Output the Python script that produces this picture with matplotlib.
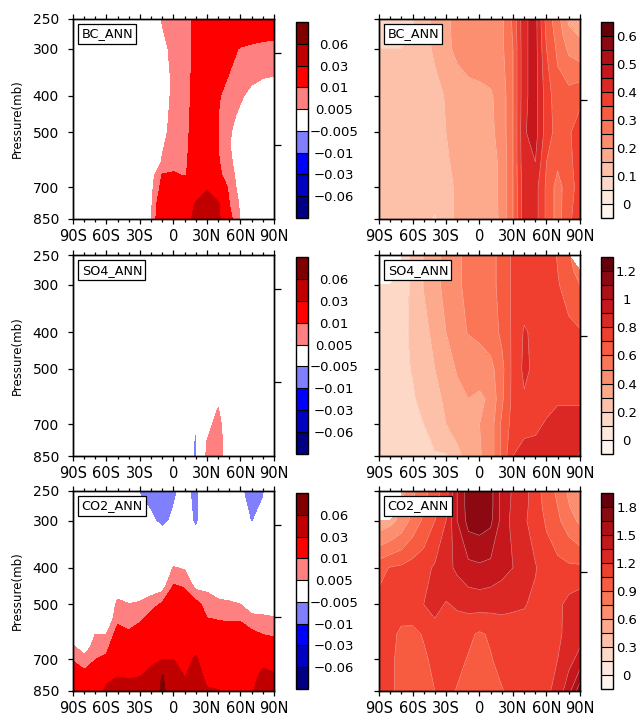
import numpy as np
import matplotlib
matplotlib.use("Agg")
import matplotlib.pyplot as plt
from matplotlib.colors import ListedColormap, BoundaryNorm
from matplotlib.ticker import NullLocator

plt.rcParams['font.family'] = ['DejaVu Sans']

# ---------------- data ----------------
LAT = [-90, -80, -70, -60, -50, -40, -30, -20, -10, 0, 10, 20, 30, 40, 50, 60, 70, 80, 90]
LAT_TICKS = [-90, -60, -30, 0, 30, 60, 90]
LAT_LABELS = ['90S', '60S', '30S', '0', '30N', '60N', '90N']
P_TICKS = [250, 300, 400, 500, 700, 850]

# left column: differences (values in units of 1e-3)
P_DIFF = [250, 300, 350, 400, 450, 500, 550, 600, 650, 700, 775, 850]
BC_DIFF = [
    [0, 0, 0, 0, 0, 0, 0, 1.2, 5.4, 7, 8.6, 10.8, 15.8, 20, 20, 20, 20, 20, 20],
    [0, 0, 0, 0, 0, 0, 0, 0, 3.5, 6.4, 8.4, 11, 16, 17.5, 12.5, 9.3, 7.9, 6.4, 5.5],
    [0, 0, 0, 0, 0, 0, 0, 0, 2.5, 6.1, 8.3, 11.3, 15, 14, 9.8, 8.6, 7.4, 6.2, 5.5],
    [0, 0, 0, 0, 0, 0, 0, 0, 2.5, 6.1, 8.4, 11.5, 15, 10.5, 8.1, 6, 2.5, 0, 0],
    [0, 0, 0, 0, 0, 0, 0, 0, 3.2, 6.4, 8.6, 11.7, 15, 10, 7.1, 3.5, 0, 0, 0],
    [0, 0, 0, 0, 0, 0, 0, 0, 3.7, 6.6, 8.7, 12, 15, 10, 5.8, 1, 0, 0, 0],
    [0, 0, 0, 0, 0, 0, 0, 0, 4.7, 6.9, 8.9, 12.3, 15.5, 10, 5.5, 0.5, 0, 0, 0],
    [0, 0, 0, 0, 0, 0, 0, 1.2, 5.4, 7.3, 9.1, 12.5, 16, 10.5, 6.3, 1.5, 0, 0, 0],
    [0, 0, 0, 0, 0, 0, 0, 2.7, 10.5, 11, 9.5, 13, 18, 11.5, 7.1, 2.5, 0, 0, 0],
    [0, 0, 0, 0, 0, 0, 0, 3.5, 12, 14, 16, 22, 26, 20, 8, 3, 0, 0, 0],
    [0, 0, 0, 0, 0, 0, 0, 4, 16, 20, 24, 31, 45, 32, 10, 4, 0, 0, 0],
    [0, 0, 0, 0, 0, 0, 0, 5, 17, 21, 25, 33, 48, 34, 12, 4.5, 0, 0, 0],
]
SO4_DIFF = [
    [0, 0, 0, 0, 0, 0, 0, 0, 0, 0, 0, 0, 0, 0, 0, 0, 0, 0, 0],
    [0, 0, 0, 0, 0, 0, 0, 0, 0, 0, 0, 0, 0, 0, 0, 0, 0, 0, 0],
    [0, 0, 0, 0, 0, 0, 0, 0, 0, 0, 0, 0, 0, 0, 0, 0, 0, 0, 0],
    [0, 0, 0, 0, 0, 0, 0, 0, 0, 0, 0, 0, 0, 0, 0, 0, 0, 0, 0],
    [0, 0, 0, 0, 0, 0, 0, 0, 0, 0, 0, 0, 0, 0, 0, 0, 0, 0, 0],
    [0, 0, 0, 0, 0, 0, 0, 0, 0, 0, 0, 0, 0, 0, 0, 0, 0, 0, 0],
    [0, 0, 0, 0, 0, 0, 0, 0, 0, 0, 0, 0, 0, 0, 0, 0, 0, 0, 0],
    [0, 0, 0, 0, 0, 0, 0, 0, 0, 0, 0, 0, 1, 4, 0, 0, 0, 0, 0],
    [0, 0, 0, 0, 0, 0, 0, 0, 0, 0, 0, 0, 2, 5.5, 0, 0, 0, 0, 0],
    [0, 0, 0, 0, 0, 0, 0, 0, 0, 0, 0, -4.5, 3, 7, 0, 0, 0, 0, 0],
    [0, 0, 0, 0, 0, 0, 0, 0, 0, 0, 0, -6, 5, 8, 0, 0, 0, 0, 0],
    [0, 0, 0, 0, 0, 0, 0, 0, 0, 0, 0, -6, 6.5, 8.5, 0, 0, 0, 0, 0],
]
CO2_DIFF = [
    [0, 0, 0, 0, 0, 0, -5.5, -7, -8, -6, -3, -7, 0, 0, 0, -4, -8, -6, 0],
    [0, 0, 0, 0, 0, 0, -1, -4, -6.5, -4, -1, -6.5, 0, 0, 0, -1, -5.5, -2, 0],
    [0, 0, 0, 0, 0, 0, 0, 0, 0, 0.3, 0, 0, 0, 0, 0, 0, 0, 0, 0],
    [0, 0, 0, 0, 0, 0, 0, 0, 0, 5.3, 4.5, 0, 0, 0, 0, 0, 0, 0, 0],
    [0, 0, 0, 0, 2.3, 0.3, 1.1, 2.3, 3, 10.8, 9.7, 3.8, 4, 2, 1.3, 0, 0, 0, 0],
    [0, 0, 0, 0, 6.2, 5.2, 5.8, 7.8, 10.9, 14.6, 12.8, 12.2, 7.4, 6.4, 5.9, 5, 2.1, 2.1, 1.6],
    [0, 0, 0, 0, 8.8, 7.8, 9.2, 13, 15.6, 18.5, 15.8, 16.9, 10.4, 9.9, 9.5, 9.6, 6.9, 6.4, 5.9],
    [1.5, 0, 5, 5, 12.6, 10.9, 13.5, 17.7, 20.3, 22.3, 18.8, 21.6, 13.9, 13.4, 13, 12.5, 11.5, 9.8, 8.8],
    [6.1, 2, 7.4, 7.8, 17.4, 15.9, 18, 22.5, 25, 26.2, 21.8, 26.3, 17.4, 16.8, 16, 15, 14, 16.6, 14],
    [9.8, 6.8, 9.8, 11.8, 22.3, 21, 22.7, 27.2, 29.7, 30, 24.8, 32, 21, 20.3, 19, 17, 17, 23.7, 21],
    [12, 12, 14, 24, 29.5, 28.5, 29.5, 34, 62, 39, 29.3, 36, 26.3, 25.4, 22, 20, 22, 36, 32.4],
    [14, 15, 18, 35, 38, 37, 38, 42, 65, 45, 40, 42, 31.5, 30.5, 25, 24, 27, 45, 45],
]
DIFF_UNIT = 1e-3

# right column: responses
nan = float('nan')
P_RESP = [250, 275, 300, 400, 500, 600, 700, 850]
BC_RESP = [
    [0.07, 0.07, 0.08, 0.095, 0.13, 0.165, 0.19, 0.215, 0.22, 0.22, 0.225, 0.24, 0.31, 0.44, 0.47, 0.33, 0.27, 0.19, 0.17],
    [0.08, 0.08, 0.085, 0.1, 0.13, 0.163, 0.19, 0.213, 0.22, 0.22, 0.225, 0.24, 0.305, 0.44, 0.47, 0.34, 0.28, 0.215, 0.195],
    [0.1, 0.1, 0.1, 0.105, 0.13, 0.16, 0.19, 0.21, 0.22, 0.22, 0.225, 0.24, 0.30, 0.44, 0.47, 0.35, 0.29, 0.24, 0.22],
    [0.125, 0.125, 0.125, 0.125, 0.125, 0.13, 0.155, 0.175, 0.185, 0.19, 0.195, 0.22, 0.30, 0.44, 0.47, 0.375, 0.32, 0.32, 0.34],
    [0.125, 0.125, 0.125, 0.125, 0.125, 0.13, 0.15, 0.165, 0.175, 0.18, 0.19, 0.22, 0.30, 0.445, 0.47, 0.375, 0.33, 0.345, 0.37],
    [0.125, 0.125, 0.125, 0.125, 0.125, 0.13, 0.145, 0.16, 0.17, 0.175, 0.185, 0.21, 0.30, 0.44, 0.45, 0.35, 0.31, 0.34, 0.37],
    [0.125, 0.125, 0.125, 0.125, 0.125, 0.13, 0.14, 0.155, 0.165, 0.17, 0.185, 0.21, 0.30, 0.43, 0.42, 0.34, 0.28, 0.33, 0.37],
    [0.125, 0.125, 0.12, 0.12, 0.115, 0.095, 0.13, 0.16, 0.165, 0.165, 0.18, 0.21, 0.30, 0.43, 0.42, 0.34, 0.28, 0.34, 0.38],
]
SO4_RESP = [
    [nan, nan, 0.14, 0.22, 0.305, 0.37, 0.43, 0.487, 0.52, 0.55, 0.577, 0.624, 0.72, 0.75, 0.75, 0.74, 0.695, 0.61, nan],
    [nan, nan, 0.14, 0.22, 0.305, 0.37, 0.43, 0.487, 0.52, 0.55, 0.577, 0.624, 0.72, 0.75, 0.75, 0.74, 0.70, 0.63, 0.56],
    [0.12, 0.13, 0.15, 0.22, 0.305, 0.37, 0.43, 0.487, 0.52, 0.55, 0.577, 0.624, 0.72, 0.75, 0.75, 0.75, 0.71, 0.65, 0.6],
    [0.13, 0.15, 0.17, 0.22, 0.27, 0.33, 0.4, 0.47, 0.505, 0.52, 0.55, 0.62, 0.72, 0.81, 0.78, 0.76, 0.75, 0.73, 0.71],
    [0.14, 0.16, 0.18, 0.205, 0.255, 0.3, 0.355, 0.41, 0.43, 0.45, 0.47, 0.57, 0.73, 0.82, 0.78, 0.76, 0.76, 0.76, 0.76],
    [0.14, 0.15, 0.17, 0.19, 0.23, 0.27, 0.32, 0.37, 0.4, 0.38, 0.42, 0.58, 0.73, 0.79, 0.77, 0.77, 0.79, 0.79, 0.79],
    [0.14, 0.15, 0.16, 0.18, 0.2, 0.25, 0.3, 0.33, 0.37, 0.4, 0.45, 0.62, 0.74, 0.77, 0.78, 0.81, 0.83, 0.83, 0.83],
    [0.14, 0.15, 0.16, 0.17, 0.18, 0.19, 0.19, 0.28, 0.33, 0.39, 0.45, 0.62, 0.8, 0.84, 0.84, 0.85, 0.86, 0.87, 0.91],
]
CO2_RESP = [
    [nan, nan, 0.55, 0.72, 0.85, 0.98, 1.13, 1.5, 1.72, 1.74, 1.7, 1.45, 1.33, 1.25, 1.12, 0.98, 0.87, 0.72, 0.62],
    [nan, nan, 0.6, 0.75, 0.88, 1.0, 1.15, 1.5, 1.72, 1.74, 1.7, 1.45, 1.32, 1.24, 1.13, 1.0, 0.9, 0.76, 0.66],
    [0.5, 0.55, 0.65, 0.8, 0.93, 1.05, 1.2, 1.5, 1.7, 1.72, 1.68, 1.45, 1.3, 1.22, 1.14, 1.03, 0.93, 0.82, 0.72],
    [1.0, 1.06, 1.08, 1.12, 1.15, 1.22, 1.3, 1.38, 1.45, 1.47, 1.45, 1.4, 1.35, 1.28, 1.21, 1.13, 1.1, 1.08, 1.08],
    [1.1, 1.1, 1.1, 1.12, 1.2, 1.25, 1.19, 1.22, 1.25, 1.26, 1.25, 1.24, 1.22, 1.21, 1.17, 1.14, 1.16, 1.25, 1.3],
    [1.12, 1.08, 1.03, 1.02, 1.06, 1.14, 1.12, 1.12, 1.08, 1.03, 1.07, 1.12, 1.14, 1.14, 1.14, 1.15, 1.17, 1.25, 1.3],
    [1.12, 1.07, 1.02, 1.0, 1.03, 1.08, 1.1, 1.09, 1.04, 1.0, 1.04, 1.1, 1.12, 1.13, 1.13, 1.15, 1.2, 1.3, 1.4],
    [1.12, 1.08, 1.0, 0.98, 1.0, 1.05, 1.1, 1.04, 1.0, 0.98, 1.0, 1.04, 1.1, 1.12, 1.14, 1.17, 1.25, 1.45, 1.75],
]

DIFF_LEVELS = [-0.06, -0.03, -0.01, -0.005, 0.005, 0.01, 0.03, 0.06]
DIFF_LABELS = ['\u22120.06', '\u22120.03', '\u22120.01', '\u22120.005', '0.005', '0.01', '0.03', '0.06']
BC_LEVELS = [0, 0.05, 0.1, 0.15, 0.2, 0.25, 0.3, 0.35, 0.4, 0.45, 0.5, 0.55, 0.6]
BC_TICKS = [0, 0.1, 0.2, 0.3, 0.4, 0.5, 0.6]
BC_TICKLABELS = ['0', '0.1', '0.2', '0.3', '0.4', '0.5', '0.6']
SO4_LEVELS = [0, 0.1, 0.2, 0.3, 0.4, 0.5, 0.6, 0.7, 0.8, 0.9, 1.0, 1.1, 1.2]
SO4_TICKS = [0, 0.2, 0.4, 0.6, 0.8, 1.0, 1.2]
SO4_TICKLABELS = ['0', '0.2', '0.4', '0.6', '0.8', '1', '1.2']
CO2_LEVELS = [0, 0.15, 0.3, 0.45, 0.6, 0.75, 0.9, 1.05, 1.2, 1.35, 1.5, 1.65, 1.8]
CO2_TICKS = [0, 0.3, 0.6, 0.9, 1.2, 1.5, 1.8]
CO2_TICKLABELS = ['0', '0.3', '0.6', '0.9', '1.2', '1.5', '1.8']
TITLES = ['BC_ANN', 'SO4_ANN', 'CO2_ANN']

DIFF_COLORS = ['#000080', '#0000c0', '#0000ff', '#8080ff', '#ffffff',
               '#ff8080', '#ff0000', '#c00000', '#800000']
RESP_COLORS = [matplotlib.colors.to_hex(c) for c in plt.cm.Reds(np.linspace(0, 1, 14))]

# ---------------- layout (pixels) ----------------
FW, FH = 641, 720
fig = plt.figure(figsize=(FW / 100, FH / 100), dpi=100)


def rect(x0, y0, x1, y1):
    return [x0 / FW, 1 - y1 / FH, (x1 - x0) / FW, (y1 - y0) / FH]


ROW_Y = [(19, 219), (255, 456), (491, 691)]
CB_Y = [(22, 218), (257, 454), (493, 689)]


def style_axes(ax, ylabels, rticks):
    ax.set_yscale('log')
    ax.set_xlim(-90, 90)
    ax.set_ylim(850, 250)
    ax.set_yticks(P_TICKS)
    ax.yaxis.set_minor_locator(NullLocator())
    ax.set_yticklabels([str(p) for p in P_TICKS] if ylabels else [])
    ax.set_xticks(LAT_TICKS)
    ax.set_xticklabels(LAT_LABELS)
    ax.set_xticks(LAT, minor=True)
    ax.tick_params(axis='x', which='both', direction='out', top=True,
                   labelsize=10.5, pad=4, width=0.9)
    ax.tick_params(axis='x', which='major', length=3.5)
    ax.tick_params(axis='x', which='minor', length=2.2)
    ax.tick_params(axis='y', which='major', direction='out', length=3.6,
                   width=0.9, labelsize=10, pad=6.5)
    for s in ax.spines.values():
        s.set_linewidth(1.0)
    tw = ax.twinx()
    tw.set_yscale('log')
    tw.set_ylim(850, 250)
    tw.set_yticks(rticks)
    tw.set_yticklabels([])
    tw.yaxis.set_minor_locator(NullLocator())
    tw.tick_params(axis='y', direction='out', length=5, width=0.9)
    for s in tw.spines.values():
        s.set_linewidth(1.0)


def add_title(ax, text):
    ax.text(0.043, 0.925, text, transform=ax.transAxes, ha='left', va='center',
            fontsize=9.2, zorder=10,
            bbox=dict(boxstyle='square,pad=0.25', fc='white', ec='black', lw=0.9))


def add_cbar(cs, box, ticks, labels, pad):
    cax = fig.add_axes(box)
    cb = fig.colorbar(cs, cax=cax, orientation='vertical', extendrect=True,
                      extendfrac='auto', drawedges=True, spacing='uniform')
    cb.outline.set_linewidth(1.0)
    cb.dividers.set_linewidth(0.8)
    cb.dividers.set_color('black')
    cb.set_ticks(ticks, labels=labels)
    cax.tick_params(length=0, labelsize=9.5, pad=pad)
    cax.yaxis.set_minor_locator(NullLocator())
    for t in cax.get_yticklabels():
        t.set_ha('center')
    return cb


diff_sets = [BC_DIFF, SO4_DIFF, CO2_DIFF]
resp_sets = [BC_RESP, SO4_RESP, CO2_RESP]
resp_levels = [BC_LEVELS, SO4_LEVELS, CO2_LEVELS]
resp_ticks = [BC_TICKS, SO4_TICKS, CO2_TICKS]
resp_ticklabels = [BC_TICKLABELS, SO4_TICKLABELS, CO2_TICKLABELS]

Xd, Yd = np.meshgrid(LAT, P_DIFF)
Xr, Yr = np.meshgrid(LAT, P_RESP)

for i in range(3):
    y0, y1 = ROW_Y[i]
    c0, c1 = CB_Y[i]
    # ---- left: difference ----
    axl = fig.add_axes(rect(73, y0, 274, y1))
    Zd = np.array(diff_sets[i], dtype=float) * DIFF_UNIT
    cmap_d = ListedColormap(DIFF_COLORS)
    norm_d = BoundaryNorm(DIFF_LEVELS, ncolors=len(DIFF_COLORS), extend='both')
    csl = axl.contourf(Xd, Yd, Zd, levels=DIFF_LEVELS, cmap=cmap_d, norm=norm_d,
                       extend='both')
    style_axes(axl, True, [308, 541])
    add_title(axl, TITLES[i])
    fig.text(17 / FW, 1 - ((y0 + y1) / 2) / FH, 'Pressure(mb)', rotation=90,
             ha='center', va='center', fontsize=8.5)
    add_cbar(csl, rect(296, c0, 308, c1), DIFF_LEVELS, DIFF_LABELS, 18.5)

    # ---- right: response ----
    axr = fig.add_axes(rect(379, y0, 580, y1))
    Zr = np.ma.masked_invalid(np.array(resp_sets[i], dtype=float))
    lv = resp_levels[i]
    cmap_r = ListedColormap(RESP_COLORS)
    norm_r = BoundaryNorm(lv, ncolors=len(RESP_COLORS), extend='both')
    csr = axr.contourf(Xr, Yr, Zr, levels=lv, cmap=cmap_r, norm=norm_r, extend='both')
    axr.contour(Xr, Yr, Zr, levels=lv, colors='white', linewidths=0.4, alpha=0.55)
    style_axes(axr, False, [410])
    add_title(axr, TITLES[i])
    add_cbar(csr, rect(601, c0, 613, c1), resp_ticks[i], resp_ticklabels[i], 9.8)

fig.savefig('out.png', dpi=100)
